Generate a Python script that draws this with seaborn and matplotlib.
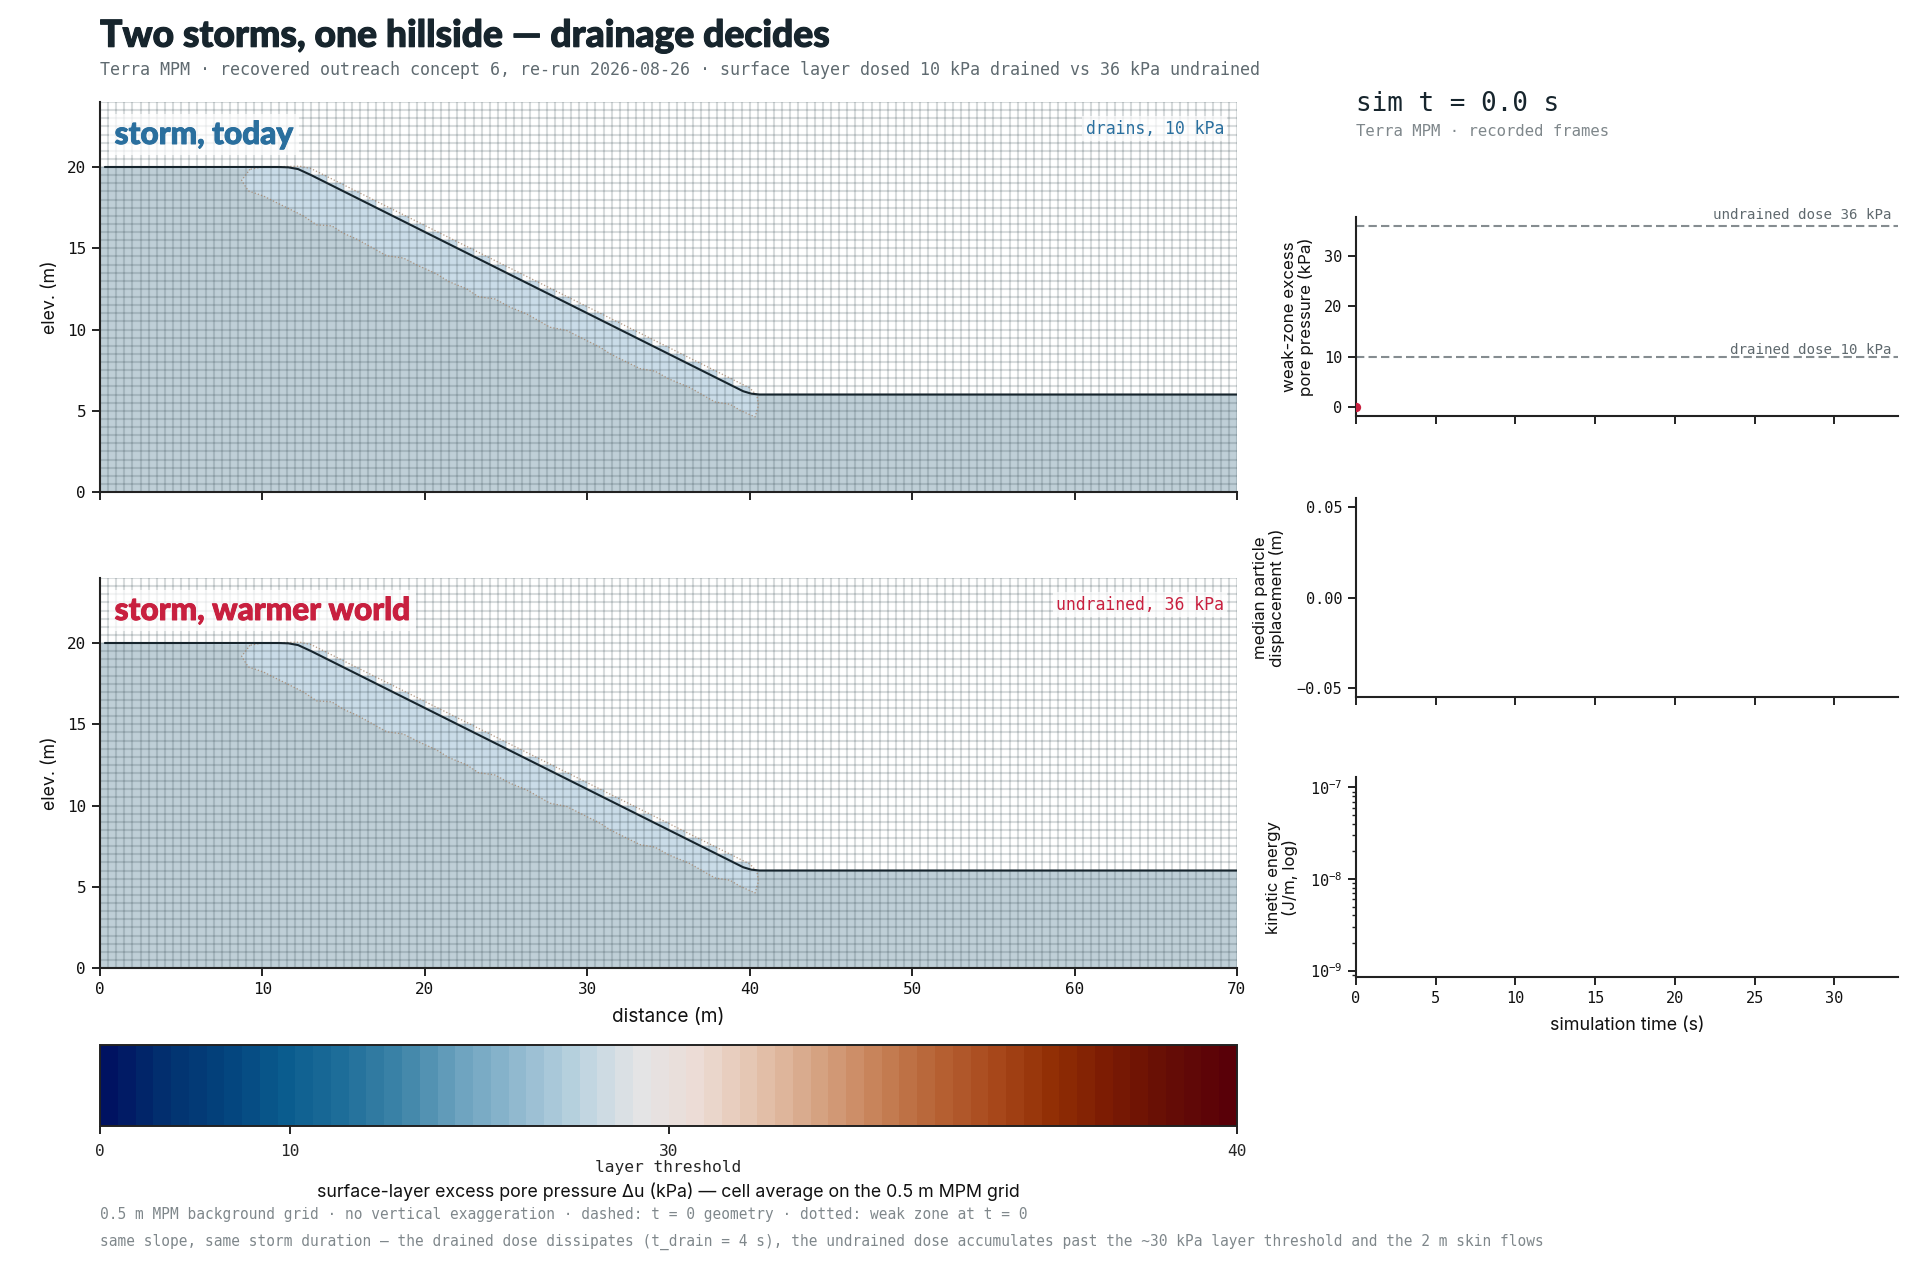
import numpy as np
import matplotlib
matplotlib.use("Agg")
import matplotlib.pyplot as plt
import matplotlib.patheffects as pe
import seaborn as sns
from matplotlib.cm import ScalarMappable
from matplotlib.colors import LinearSegmentedColormap, TwoSlopeNorm

sns.set_theme(style="ticks")

MONO = "DejaVu Sans Mono"
SANS = "Inter"
HEAD = "Lato"
INK = "#17252d"
BLUE = "#2a6f9e"
RED = "#c8203f"

# hillside geometry at t = 0 (metres)
ground_x = [0, 12, 40, 70]
ground_y = [20, 20, 6, 6]
surface_x = [0.3, 11.0, 11.6, 12.2, 13.0, 39.0, 39.6, 40.1, 40.6, 70.0]
surface_y = [20, 20, 19.98, 19.87, 19.5, 6.5, 6.2, 6.05, 6.0, 6.0]
weak_x = [9.24, 8.72, 9.13, 10.06, 10.67, 11.70, 12.52, 13.34, 14.27, 14.98, 15.81, 16.63, 17.65,
          18.68, 19.60, 20.73, 21.45, 22.58, 23.30, 24.32, 25.25, 26.27, 27.71, 28.74, 30.17,
          30.79, 31.40, 32.22, 33.25, 34.17, 35.0, 36.33, 37.15, 37.87, 38.79, 39.41, 40.33,
          40.54, 40.44]
weak_y = [19.86, 19.18, 18.53, 18.22, 17.91, 17.40, 16.99, 16.44, 16.38, 15.93, 15.56, 15.11, 14.54,
          14.40, 13.93, 13.42, 12.96, 12.50, 12.02, 11.88, 11.37, 10.96, 10.14, 9.94, 9.22,
          8.91, 8.51, 8.10, 7.59, 7.44, 6.97, 6.42, 5.95, 5.54, 5.40, 5.03, 4.62,
          5.34, 5.95]
crest_x = [40.44, 40.0, 13.0, 12.3, 10.0, 9.24]
crest_y = [5.95, 6.4, 19.9, 20.05, 20.0, 19.86]

# recorded time series, only the first frame exists at t = 0
time_s = [0.0]
pore_kpa = [0.0]
doses = [36, 10]
dose_labels = ["undrained dose 36 kPa", "drained dose 10 kPa"]

panels = [("storm, today", "drains, 10 kPa", BLUE),
          ("storm, warmer world", "undrained, 36 kPa", RED)]

cbar_colors = ["#001261", "#02316f", "#03437d", "#0a5c8e", "#1f6e9a", "#3f85a8", "#6ea3bf",
               "#93bad0", "#bcd4e0", "#e4e4e6", "#ecdcd5", "#e4c3ae", "#d6a484", "#c8835a",
               "#b76436", "#a9491c", "#922f05", "#7a1a03", "#650d06", "#590008"]
vik = LinearSegmentedColormap.from_list("vik_like", cbar_colors, N=64)

W, H = 1932, 1269

plt.rcParams["mathtext.default"] = "regular"


def rect(x0, y0, x1, y1):
    # pixel box of the reference -> figure fraction
    return [x0 / W, 1 - y1 / H, (x1 - x0) / W, (y1 - y0) / H]


def ftext(fig, px, py, s, **kw):
    return fig.text(px / W, 1 - py / H, s, **kw)


def fatten(artist, color, width=0.7):
    # Lato tops out lighter than the heading face of the original
    artist.set_path_effects([pe.withStroke(linewidth=width, foreground=color)])


def style_ticks(ax, labelsize=11.5):
    sns.despine(ax=ax)
    for side in ["left", "bottom"]:
        ax.spines[side].set_linewidth(1.5)
        ax.spines[side].set_color("#222222")
    ax.tick_params(length=6, width=1.4, color="#222222", labelsize=labelsize, pad=4)
    for lab in ax.get_xticklabels() + ax.get_yticklabels():
        lab.set_family(MONO)
        lab.set_color("#111111")


def draw_hillside(ax, title, tag, color, show_x):
    xs = np.arange(0, 70.5, 0.5)
    ys = np.arange(0, 24.5, 0.5)
    # a cell is active if its lower edge is below the ground at its left edge
    top = np.interp(xs[:-1], ground_x, ground_y)
    cells = (ys[:-1][:, None] < top[None, :]).astype(float)
    cells[cells == 0] = np.nan
    ax.pcolormesh(xs, ys, cells, cmap=LinearSegmentedColormap.from_list("l", ["#cadce8", "#cadce8"]),
                  zorder=1, linewidth=0)

    # soil under the surface layer
    base_x = [0] + weak_x + [40.5, 70, 70, 0]
    base_y = [20] + weak_y + [6, 6, 0, 0]
    ax.fill(base_x, base_y, color="#bfcfd7", lw=0, zorder=1.5)

    ax.vlines(xs, 0, 24, color="#2a3f47", alpha=0.18, lw=1.5, zorder=2)
    ax.hlines(ys, 0, 70, color="#2a3f47", alpha=0.18, lw=1.5, zorder=2)

    sns.lineplot(x=weak_x + crest_x, y=weak_y + crest_y, ax=ax, sort=False, estimator=None,
                 color="#a5856c", lw=0.9, ls=":", alpha=0.85, zorder=3)
    sns.lineplot(x=surface_x, y=surface_y, ax=ax, sort=False, estimator=None,
                 color=INK, lw=1.5, zorder=4)

    ax.set_xlim(0, 70)
    ax.set_ylim(0, 24)
    ax.set_xticks(np.arange(0, 71, 10))
    ax.set_yticks([0, 5, 10, 15, 20])
    ax.set_ylabel("elev. (m)", family=SANS, fontsize=12.8, color="#111111", labelpad=6)
    if show_x:
        ax.set_xlabel("distance (m)", family=SANS, fontsize=13.7, color="#111111", labelpad=8)
    else:
        ax.set_xticklabels([])
    style_ticks(ax)

    lab = ax.text(0.9, 22.0, title, family=HEAD, fontweight=900, fontsize=22.7, color=color,
                  va="center", ha="left", zorder=6,
                  bbox=dict(fc="white", ec="none", alpha=0.7, pad=4))
    fatten(lab, color)
    ax.text(69.2, 22.35, tag, family=MONO, fontsize=11.9, color=color, va="center", ha="right",
            zorder=6, bbox=dict(fc="white", ec="none", alpha=0.7, pad=2.5))


fig = plt.figure(figsize=(W / 100, H / 100), dpi=100, facecolor="white")

head = ftext(fig, 100, 36, "Two storms, one hillside — drainage decides", family=HEAD, fontweight=900,
             fontsize=26.8, color=INK, va="center")
fatten(head, INK, 0.8)
ftext(fig, 100, 70, "Terra MPM · recovered outreach concept 6, re-run 2026-08-26 · surface layer dosed "
      "10 kPa drained vs 36 kPa undrained", family=MONO, fontsize=12, color="#5f6a70", va="center")

ax_top = fig.add_axes(rect(100, 102, 1237, 492))
ax_bot = fig.add_axes(rect(100, 578, 1237, 968))
draw_hillside(ax_top, *panels[0], False)
draw_hillside(ax_bot, *panels[1], True)

# colour scale, threshold sits in the middle
cax = fig.add_axes(rect(100, 1045, 1237, 1126))
norm = TwoSlopeNorm(vmin=0, vcenter=30, vmax=40)
cb = fig.colorbar(ScalarMappable(norm=norm, cmap=vik), cax=cax, orientation="horizontal",
                  ticks=[0, 10, 30, 40])
cb.ax.set_xticklabels(["0", "10", "30\nlayer threshold", "40"], family=MONO, fontsize=11.7,
                      linespacing=1.05)
cb.ax.minorticks_off()
cb.ax.tick_params(length=6, width=1.4, color="#222222", pad=7)
cb.outline.set_linewidth(1.4)
cb.outline.set_edgecolor("#222222")
cb.set_label("surface-layer excess pore pressure Δu (kPa) — cell average on the 0.5 m MPM grid",
             family=SANS, fontsize=12.8, color="#111111", labelpad=6)

ftext(fig, 100, 1214, "0.5 m MPM background grid · no vertical exaggeration · dashed: t = 0 geometry · "
      "dotted: weak zone at t = 0", family=MONO, fontsize=10.45, color="#7f878b", va="center")
ftext(fig, 100, 1242, "same slope, same storm duration — the drained dose dissipates (t_drain = 4 s), "
      "the undrained dose accumulates past the ~30 kPa layer threshold and the 2 m skin flows",
      family=MONO, fontsize=10.45, color="#7f878b", va="center")

# right column
ftext(fig, 1356, 104, "sim t = 0.0 s", family=MONO, fontsize=18.7, color=INK, va="center")
ftext(fig, 1356, 131, "Terra MPM · recorded frames", family=MONO, fontsize=11.27, color="#7f878b", va="center")

ax_u = fig.add_axes(rect(1356, 217, 1898, 416))
ax_d = fig.add_axes(rect(1356, 498, 1898, 697))
ax_k = fig.add_axes(rect(1356, 777, 1898, 977))

for dose, lab, lift in zip(doses, dose_labels, [0.8, -0.1]):
    ax_u.axhline(dose, color="#858c90", lw=1.5, ls=(0, (4, 2)))
    ax_u.text(33.6, dose + lift, lab, family=MONO, fontsize=10.2, color="#5f696e", ha="right", va="bottom")
sns.scatterplot(x=time_s, y=pore_kpa, ax=ax_u, color=RED, s=45, linewidth=0, zorder=5)
ax_u.set_ylim(-1.8, 37.8)
ax_u.set_yticks([0, 10, 20, 30])
ax_u.set_ylabel("weak-zone excess\npore pressure (kPa)", family=SANS, fontsize=12.2, color="#111111",
                linespacing=1.1, labelpad=7)

ax_d.set_ylim(-0.055, 0.055)
ax_d.set_yticks([-0.05, 0.0, 0.05])
ax_d.set_ylabel("median particle\ndisplacement (m)", family=SANS, fontsize=12.2, color="#111111",
                linespacing=1.1, labelpad=8)

ax_k.set_yscale("log")
ax_k.set_ylim(8.5e-10, 1.3e-7)
ax_k.set_ylabel("kinetic energy\n(J/m, log)", family=SANS, fontsize=12.2, color="#111111",
                linespacing=1.1, labelpad=8)
ax_k.set_xlabel("simulation time (s)", family=SANS, fontsize=12.9, color="#111111", labelpad=8)

for ax in [ax_u, ax_d, ax_k]:
    ax.set_xlim(0, 34)
    ax.set_xticks(np.arange(0, 31, 5))
    if ax is not ax_k:
        ax.set_xticklabels([])
    style_ticks(ax, labelsize=11)
ax_k.tick_params(which="minor", length=3, width=1.0, color="#222222")

fig.savefig("out.png", dpi=100)
